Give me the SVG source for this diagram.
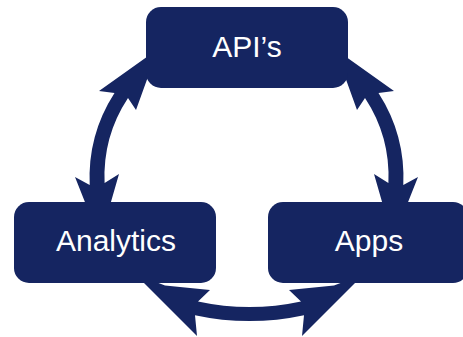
<svg xmlns="http://www.w3.org/2000/svg" width="463" height="337" viewBox="0 0 463 337">
  <style>
    .arrow { fill: #152561; stroke: none; }
    .box { fill: #152561; }
    .label { fill: #ffffff; font-family: "Liberation Sans", Arial, sans-serif; font-size: 30px; text-anchor: middle; }
  </style>
  <rect width="463" height="337" fill="#ffffff"/>
  <g id="connectors">
    <path id="arrow-left" class="arrow" d="M158,49 L99,91 L114.5,93 A157,157 0 0 0 89.7,185 L75,177 L100,240 L119,174 L104.6,183 A143,143 0 0 1 128,98 L136,110 Z"/>
    <path id="arrow-right" class="arrow" d="M335,49 L394,91 L378.5,93 A157,157 0 0 1 403.3,185 L418,177 L393,240 L374,174 L388.4,183 A143,143 0 0 0 365,98 L357,110 Z"/>
    <path id="arrow-bottom" class="arrow" d="M198,301.5 L210,290 L165,285.5 L135,274 L197,336 L195,315.2 A257,257 0 0 0 304,315.2 L302,336 L364,274 L334,285.5 L289,290 L301,301.5 A243,243 0 0 1 198,301.5 Z"/>
  </g>
  <g id="node-apis">
    <rect class="box" x="146" y="7" width="202" height="81" rx="15" ry="15"/>
    <text class="label" x="247" y="57">API’s</text>
  </g>
  <g id="node-analytics">
    <rect class="box" x="14" y="202" width="202" height="81" rx="15" ry="15"/>
    <text class="label" x="116" y="251">Analytics</text>
  </g>
  <g id="node-apps">
    <rect class="box" x="268" y="202" width="200" height="81" rx="15" ry="15"/>
    <text class="label" x="369" y="251">Apps</text>
  </g>
</svg>
